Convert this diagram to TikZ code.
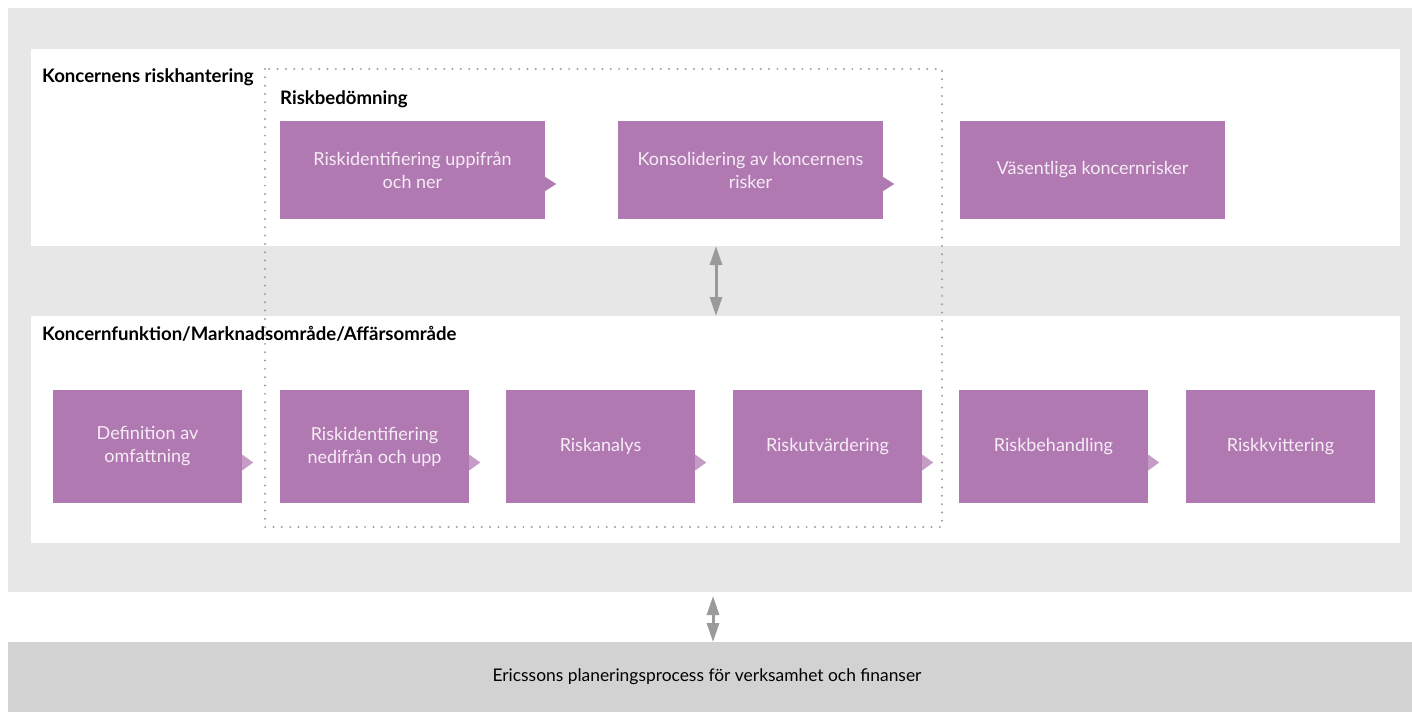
\documentclass[tikz,border=0pt]{standalone}
\usepackage{fontspec}
\setmainfont{Lato}
\usetikzlibrary{arrows.meta}
\definecolor{outergray}{HTML}{E7E7E7}
\definecolor{bargray}{HTML}{D2D2D2}
\definecolor{purp}{HTML}{B179B1}
\definecolor{purplight}{HTML}{C59CC5}
\definecolor{boxtext}{HTML}{F6ECF6}
\definecolor{dotgray}{HTML}{9E9E9E}
\definecolor{arrgray}{HTML}{9A9A9A}
\tikzset{
  panel/.style={fill=white, draw=none, inner sep=0pt, anchor=north west},
  pbox/.style={fill=purp, draw=none, text=boxtext, align=center, inner sep=0pt,
    font=\fontsize{18}{23}\selectfont},
  topbox/.style={pbox, minimum width=265pt, minimum height=98pt},
  botbox/.style={pbox, minimum width=189pt, minimum height=113pt},
  heading/.style={anchor=west, inner sep=0pt, font=\fontsize{18.6}{21}\selectfont\bfseries},
  dblarrow/.style={draw=arrgray, line width=3pt, {Triangle[width=12pt,length=19pt]}-{Triangle[width=12pt,length=19pt]}},
  dotline/.style={draw=dotgray, line width=2.2pt, line cap=round, dash pattern=on 0pt off 8.33pt}
}
\begin{document}
\begin{tikzpicture}[x=1pt,y=-1pt]
\useasboundingbox (0,0) rectangle (1412,712);
% backgrounds
\fill[outergray] (8,8) rectangle (1412,592);
\fill[bargray] (8,642) rectangle (1412,712);
\node[panel, minimum width=1369pt, minimum height=197pt] (toppanel) at (31,49) {};
\node[panel, minimum width=1369pt, minimum height=227pt] (botpanel) at (31,316) {};
\node[font=\fontsize{17.4}{20}\selectfont, inner sep=0pt] (bar) at (707,677) {Ericssons planeringsprocess för verksamhet och finanser};
% headings
\node[heading] (h1) at (42,77) {Koncernens riskhantering};
\node[heading] (h2) at (280,99) {Riskbedömning};
\node[heading] (h3) at (42,334) {Koncernfunktion/Marknadsområde/Affärsområde};
% dotted rectangle
\draw[dotline] (265,69) rectangle (942,527);
% top row
\node[topbox] (t1) at (412.5,170) {Riskidentifiering uppifrån\\och ner};
\node[topbox] (t2) at (750.5,170) {Konsolidering av koncernens\\risker};
\node[topbox] (t3) at (1092.5,170) {Väsentliga koncernrisker};
% bottom row
\node[botbox] (b1) at (147.5,446.5) {Definition av\\omfattning};
\node[botbox] (b2) at (374.5,446.5) {Riskidentifiering\\nedifrån och upp};
\node[botbox] (b3) at (600.5,446.5) {Riskanalys};
\node[botbox] (b4) at (827.5,446.5) {Riskutvärdering};
\node[botbox] (b5) at (1053.5,446.5) {Riskbehandling};
\node[botbox] (b6) at (1280.5,446.5) {Riskkvittering};
% small triangles
\foreach \n in {t1,t2}{
  \fill[purp] ([yshift=-7pt]\n.east) -- ++(11,7) -- ++(-11,7) -- cycle;
}
\foreach \n in {b1,b2,b3,b4,b5}{
  \fill[purplight] ([yshift=-8pt]\n.east) -- ++(11,8) -- ++(-11,8) -- cycle;
}
% double arrows
\coordinate (m1) at (716,246);
\coordinate (m2) at (716,316);
\draw[dblarrow] (m1) -- (m2);
\coordinate (n1) at (713,596);
\coordinate (n2) at (713,642);
\draw[dblarrow] (n1) -- (n2);
\end{tikzpicture}
\end{document}
